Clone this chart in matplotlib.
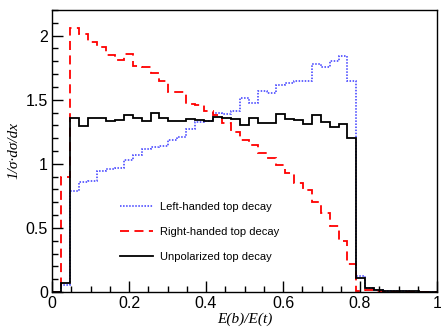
import numpy as np
import matplotlib
matplotlib.use("Agg")
import matplotlib.pyplot as plt
from matplotlib.ticker import MultipleLocator

# 43 equal bins over E(b)/E(t) in [0, 1]
n_bins = 43
x_ticks = [0, 0.2, 0.4, 0.6, 0.8, 1]
x_tick_labels = ["0", "0.2", "0.4", "0.6", "0.8", "1"]
y_ticks = [0, 0.5, 1, 1.5, 2]
y_tick_labels = ["0", "0.5", "1", "1.5", "2"]

left_handed = [0, 0.055, 0.79, 0.855, 0.863, 0.946, 0.958, 0.967, 1.027, 1.072,
               1.113, 1.131, 1.141, 1.186, 1.211, 1.271, 1.328, 1.334, 1.40, 1.388,
               1.414, 1.511, 1.475, 1.571, 1.555, 1.615, 1.633, 1.648, 1.648, 1.776,
               1.757, 1.804, 1.841, 1.645, 0.125, 0.03, 0.015, 0.01, 0.006, 0.005,
               0.004, 0.003, 0.003]
right_handed = [0, 0.9, 2.06, 2.015, 1.95, 1.91, 1.85, 1.81, 1.86, 1.76,
                1.755, 1.706, 1.645, 1.563, 1.557, 1.47, 1.459, 1.41, 1.38, 1.316,
                1.25, 1.186, 1.15, 1.085, 1.048, 0.99, 0.926, 0.85, 0.796, 0.704,
                0.617, 0.516, 0.40, 0.215, 0.01, 0.015, 0.005, 0.003, 0.003, 0.003,
                0.003, 0.003, 0.003]
unpolarized = [0, 0.07, 1.355, 1.297, 1.355, 1.36, 1.336, 1.342, 1.38, 1.355,
               1.334, 1.395, 1.355, 1.336, 1.334, 1.352, 1.342, 1.336, 1.368, 1.355,
               1.352, 1.303, 1.36, 1.32, 1.315, 1.388, 1.35, 1.342, 1.308, 1.378,
               1.326, 1.285, 1.313, 1.204, 0.107, 0.035, 0.015, 0.01, 0.008, 0.006,
               0.005, 0.004, 0.003]
labels = ["Left-handed top decay", "Right-handed top decay", "Unpolarized top decay"]

edges = np.linspace(0, 1, n_bins + 1)

plt.rcParams['font.family'] = ['Liberation Sans', 'DejaVu Sans']

fig = plt.figure(figsize=(4.41, 3.30), dpi=100)
ax = fig.add_axes([0.118, 0.115, 0.873, 0.855])

ax.stairs(left_handed, edges, baseline=0, color='#3a3aff', lw=1.1,
          linestyle=(0, (1, 1)), label=labels[0])
ax.stairs(right_handed, edges, baseline=0, color='#ff0000', lw=1.3,
          linestyle=(0, (5, 3)), label=labels[1])
ax.stairs(unpolarized, edges, baseline=0, color='black', lw=1.3,
          label=labels[2])

ax.set_xlim(0, 1)
ax.set_ylim(0, 2.2)
ax.set_xticks(x_ticks, x_tick_labels)
ax.set_yticks(y_ticks, y_tick_labels)
ax.xaxis.set_minor_locator(MultipleLocator(0.05))
ax.yaxis.set_minor_locator(MultipleLocator(0.1))
ax.tick_params(which='both', direction='in', top=False, right=False,
               labelsize=11.5, width=1)
ax.tick_params(which='major', length=8, pad=3)
ax.tick_params(which='minor', length=4)
for s in ax.spines.values():
    s.set_linewidth(1)

ax.set_xlabel("E(b)/E(t)", family='Liberation Serif', style='italic',
              fontsize=11, labelpad=1)
ax.set_ylabel("1/σ·dσ/dx", family='Liberation Serif', style='italic',
              fontsize=11, labelpad=4)

ax.legend(loc='upper left', bbox_to_anchor=(0.15, 0.355), frameon=False,
          fontsize=8, handlelength=3.0, labelspacing=1.35, handletextpad=0.6)

fig.savefig("out.png", dpi=100)
